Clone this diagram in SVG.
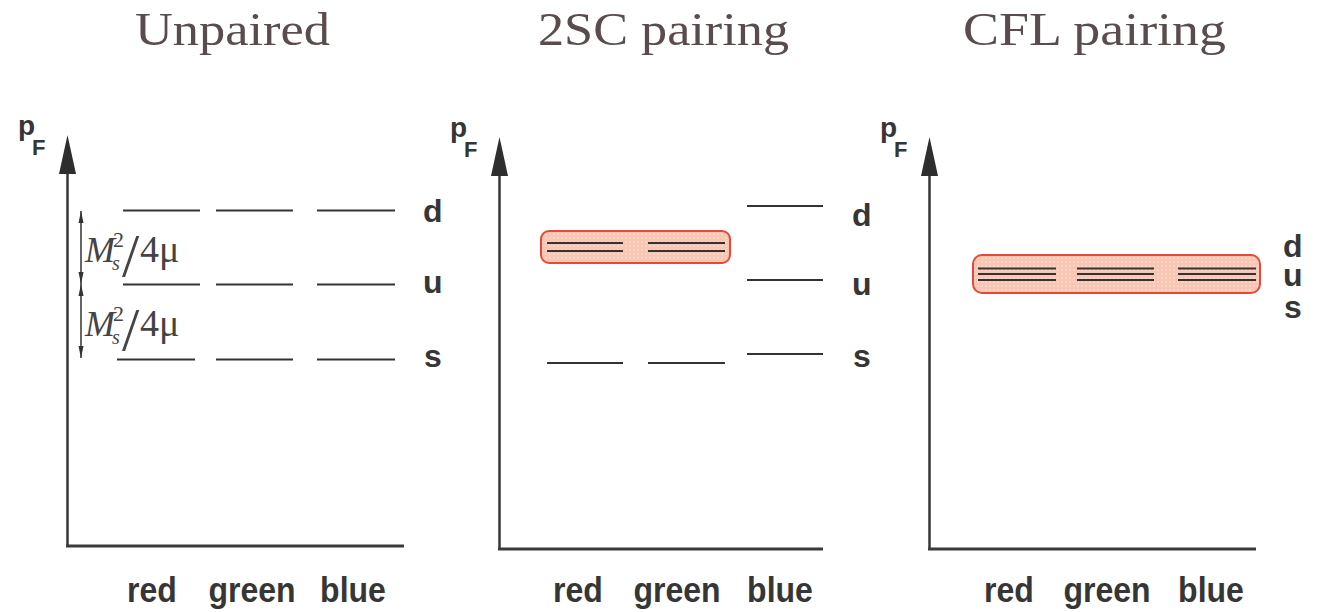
<svg xmlns="http://www.w3.org/2000/svg" width="1317" height="612" viewBox="0 0 1317 612">
<style>
.title{font-family:"Liberation Serif","Times New Roman",serif;font-size:47px;fill:#5a4c4c}
.lbl{font-family:"Liberation Sans",Arial,sans-serif;font-weight:bold;font-size:32px;fill:#363636}
.bot{font-family:"Liberation Sans",Arial,sans-serif;font-weight:bold;font-size:32px;fill:#363636;text-anchor:middle}
.pf{font-family:"Liberation Sans",Arial,sans-serif;font-weight:bold;fill:#363636}
.axis{stroke:#363636;stroke-width:2.5;fill:none}
.haxis{stroke:#3a3a3a;stroke-width:3;fill:none}
.lvl{stroke:#333;stroke-width:2;fill:none}
.head{fill:#2e2e2e}
.box{fill:url(#dots);stroke:#e8483a;stroke-width:2}
.dim{stroke:#333;stroke-width:1.5;fill:none;marker-start:url(#sm);marker-end:url(#sm)}
.mlab{font-family:"Liberation Serif","Times New Roman",serif;fill:#444}
</style>
<defs>
<pattern id="dots" width="4" height="4" patternUnits="userSpaceOnUse">
<rect width="4" height="4" fill="#f8c6b2"/>
<circle cx="2" cy="2" r="0.8" fill="#fde6dc"/>
</pattern>
<marker id="sm" markerUnits="userSpaceOnUse" viewBox="-13 -3 14 6" refX="0" refY="0" markerWidth="14" markerHeight="6" orient="auto-start-reverse">
<path d="M0,0 L-12,-2.5 L-12,2.5 Z" fill="#333"/>
</marker>
<path id="ah" d="M0,0 L-8.5,39 L8.5,39 Z"/>
</defs>

<g id="titles">
<text class="title" x="135" y="45" textLength="195" lengthAdjust="spacingAndGlyphs">Unpaired</text>
<text class="title" x="538" y="45" textLength="251" lengthAdjust="spacingAndGlyphs">2SC pairing</text>
<text class="title" x="963" y="45" textLength="263" lengthAdjust="spacingAndGlyphs">CFL pairing</text>
</g>

<g id="connectors">
<path class="axis" d="M67.5,160 V546"/>
<path class="haxis" d="M66,546 H404"/>
<use href="#ah" class="head" x="67.5" y="135"/>
<path class="axis" d="M499.5,160 V549"/>
<path class="haxis" d="M498,549 H823"/>
<use href="#ah" class="head" x="499.5" y="137"/>
<path class="axis" d="M929.5,160 V549"/>
<path class="haxis" d="M928,549 H1256"/>
<use href="#ah" class="head" x="929.5" y="137"/>
<line class="dim" x1="81" y1="211" x2="81" y2="284"/>
<line class="dim" x1="81" y1="284" x2="81" y2="358"/>
</g>

<g id="panel-unpaired">
<text class="pf" x="18" y="135" font-size="28">p</text>
<text class="pf" x="32" y="155" font-size="22">F</text>
<path class="lvl" d="M123,210.5 H200 M216,210.5 H293 M317,210.5 H395"/>
<path class="lvl" d="M123,284.5 H200 M216,284.5 H293 M317,284.5 H395"/>
<path class="lvl" d="M117,359.5 H195 M216,359.5 H293 M317,359.5 H395"/>
<text class="lbl" x="423" y="222">d</text>
<text class="lbl" x="423" y="293">u</text>
<text class="lbl" x="424" y="367">s</text>
<g id="mlabel1" class="mlab">
<text x="85" y="262" font-size="36" font-style="italic">M</text>
<text x="113" y="247" font-size="22">2</text>
<text x="112" y="270" font-size="20" font-style="italic">s</text>
<text x="122" y="276" font-size="62">/</text>
<text x="140" y="262" font-size="38">4μ</text>
</g>
<g id="mlabel2" class="mlab">
<text x="85" y="336" font-size="36" font-style="italic">M</text>
<text x="113" y="321" font-size="22">2</text>
<text x="112" y="344" font-size="20" font-style="italic">s</text>
<text x="122" y="350" font-size="62">/</text>
<text x="140" y="336" font-size="38">4μ</text>
</g>
<g transform="translate(0,602) scale(1,1.08) translate(0,-602)">
<text class="bot" x="152" y="602">red</text>
<text class="bot" x="252" y="602">green</text>
<text class="bot" x="353" y="602">blue</text>
</g>
</g>

<g id="panel-2sc">
<text class="pf" x="450" y="137" font-size="28">p</text>
<text class="pf" x="464" y="157" font-size="22">F</text>
<rect class="box" x="541" y="231" width="189" height="32" rx="8"/>
<path class="lvl" d="M547,243 H623 M648,243 H725 M547,251 H623 M648,251 H725"/>
<path class="lvl" d="M747,206 H823 M747,280 H823 M747,354 H823"/>
<path class="lvl" d="M547,363 H623 M648,363 H725"/>
<text class="lbl" x="852" y="226">d</text>
<text class="lbl" x="852" y="295">u</text>
<text class="lbl" x="853" y="367">s</text>
<g transform="translate(0,602) scale(1,1.08) translate(0,-602)">
<text class="bot" x="578" y="602">red</text>
<text class="bot" x="677" y="602">green</text>
<text class="bot" x="780" y="602">blue</text>
</g>
</g>

<g id="panel-cfl">
<text class="pf" x="880" y="137" font-size="28">p</text>
<text class="pf" x="894" y="157" font-size="22">F</text>
<rect class="box" x="973" y="255" width="287" height="38" rx="9"/>
<path class="lvl" d="M978,268.5 H1056 M1077,268.5 H1154 M1178,268.5 H1256 M978,274 H1056 M1077,274 H1154 M1178,274 H1256 M978,280 H1056 M1077,280 H1154 M1178,280 H1256"/>
<text class="lbl" x="1283" y="257" font-size="30">d</text>
<text class="lbl" x="1283" y="286" font-size="30">u</text>
<text class="lbl" x="1284" y="318" font-size="30">s</text>
<g transform="translate(0,602) scale(1,1.08) translate(0,-602)">
<text class="bot" x="1009" y="602">red</text>
<text class="bot" x="1107" y="602">green</text>
<text class="bot" x="1211" y="602">blue</text>
</g>
</g>
</svg>
